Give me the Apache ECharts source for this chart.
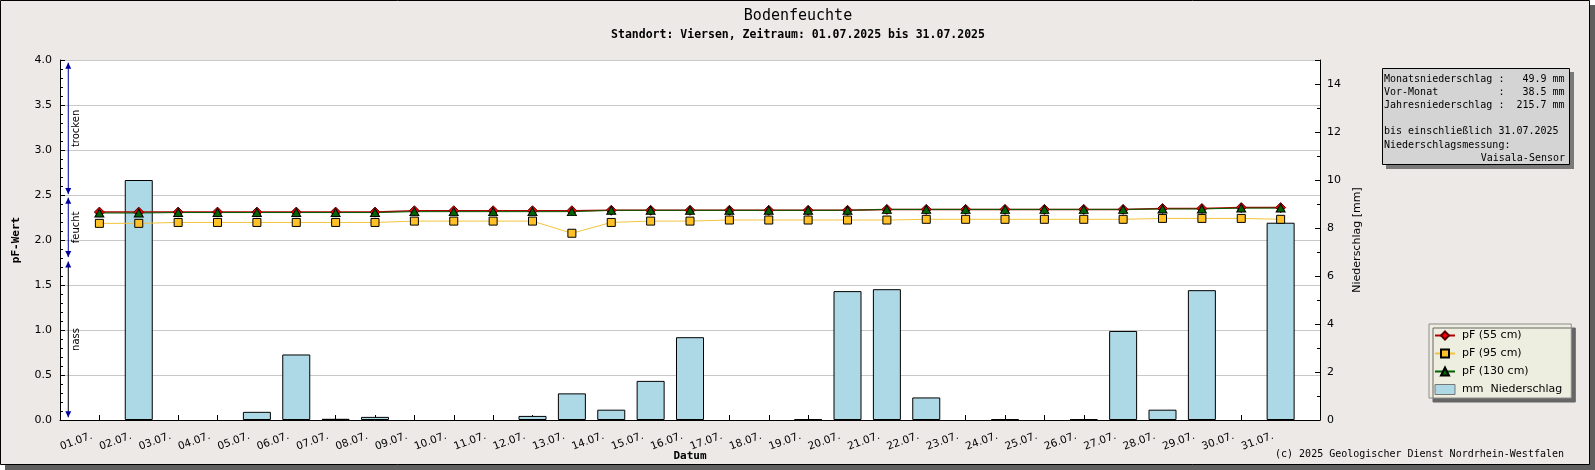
<!DOCTYPE html>
<html><head><meta charset="utf-8">
<script src="https://cdn.jsdelivr.net/npm/echarts@6/dist/echarts.min.js"></script>
<style>html,body{margin:0;padding:0;background:#fff;}#c{width:1595px;height:470px;}</style>
</head><body><div id="c"></div>
<script>
// ---------- data ----------
const dateLabels = ['01.07.','02.07.','03.07.','04.07.','05.07.','06.07.','07.07.','08.07.','09.07.','10.07.',
  '11.07.','12.07.','13.07.','14.07.','15.07.','16.07.','17.07.','18.07.','19.07.','20.07.',
  '21.07.','22.07.','23.07.','24.07.','25.07.','26.07.','27.07.','28.07.','29.07.','30.07.','31.07.'];
const pf55  = [2.31,2.31,2.31,2.31,2.31,2.31,2.31,2.31,2.325,2.325,2.325,2.325,2.325,2.33,2.33,2.33,
  2.33,2.33,2.33,2.33,2.34,2.34,2.34,2.34,2.34,2.34,2.34,2.35,2.35,2.36,2.36];
const pf95  = [2.185,2.185,2.195,2.195,2.195,2.195,2.195,2.195,2.21,2.21,2.21,2.21,2.075,2.195,2.21,2.21,
  2.222,2.222,2.222,2.222,2.222,2.23,2.23,2.23,2.23,2.23,2.23,2.24,2.24,2.24,2.23];
const pf130 = [2.30,2.30,2.305,2.305,2.305,2.305,2.305,2.305,2.315,2.315,2.315,2.315,2.315,2.33,2.33,2.33,
  2.33,2.33,2.33,2.33,2.34,2.34,2.34,2.34,2.34,2.34,2.34,2.345,2.345,2.355,2.355];
const precip = [0,10.0,0,0,0.34,2.73,0.05,0.13,0,0,0,0.17,1.11,0.43,1.63,3.45,0,0,0.03,5.37,
  5.45,0.94,0,0.03,0,0.03,3.71,0.43,5.41,0,8.22];
const zoneNames = ['trocken','feucht','nass'];
const zoneFrom  = [2.51, 1.81, 0.03];
const zoneTo    = [3.97, 2.47, 1.76];
const infoLines = ['Monatsniederschlag :   49.9 mm','Vor-Monat          :   38.5 mm','Jahresniederschlag :  215.7 mm','',
  'bis einschließlich 31.07.2025','Niederschlagsmessung:'];
const infoRight = 'Vaisala-Sensor';
const seriesNames = ['pF (55 cm)','pF (95 cm)','pF (130 cm)','mm  Niederschlag'];
const titleText = 'Bodenfeuchte';
const subtitleText = 'Standort: Viersen, Zeitraum: 01.07.2025 bis 31.07.2025';
const copyrightText = '(c) 2025 Geologischer Dienst Nordrhein-Westfalen';

// ---------- chart ----------
const BG = '#ece9e7';
const MONO = '"DejaVu Sans Mono"';
const SANS = 'DejaVu Sans';
const ZONE_X = 0.21;
const ZONE_LINE = ['#0000a0','#0000a0','#000000'];
const days = dateLabels.map((_, i) => i + 1);
const pairs = arr => arr.map((v, i) => [days[i], v]);

function txt(x, y, text, font, align, extra) {
  return Object.assign({type:'text', x:x, y:y, z:10, silent:true,
    style:{text:text, font:font, fill:'#000', align:align, textAlign:align, verticalAlign:'middle', textVerticalAlign:'middle'}}, extra || {});
}

const graphics = [
  {type:'rect', z:-3, silent:true, shape:{x:5, y:5, width:1590, height:465}, style:{fill:'#5f5f5f'}},
  {type:'rect', z:-2, silent:true, shape:{x:0.5, y:0.5, width:1589, height:464}, style:{fill:BG, stroke:'#000', lineWidth:1}},
  txt(798, 16, titleText, '15px ' + MONO, 'center'),
  txt(798, 35, subtitleText, 'bold 11.5px ' + MONO, 'center'),
  {type:'rect', z:8, silent:true, shape:{x:1386, y:72, width:188, height:97}, style:{fill:'#7a7a7a'}},
  {type:'rect', z:9, silent:true, shape:{x:1382.5, y:68.5, width:187, height:96}, style:{fill:'#d4d4d4', stroke:'#000', lineWidth:1}},
  txt(1564, 454, copyrightText, '10px ' + MONO, 'right')
];
infoLines.forEach((l, i) => { if (l) graphics.push(txt(1384, 79 + i * 13.2, l, '10px ' + MONO, 'left')); });
graphics.push(txt(1565, 79 + 6 * 13.2, infoRight, '10px ' + MONO, 'right'));

const chart = echarts.init(document.getElementById('c'), null, {renderer:'canvas', width:1595, height:470});
chart.setOption({
  animation:false,
  backgroundColor:'#fff',
  textStyle:{fontFamily:SANS},
  graphic:{elements:graphics},
  grid:{left:60, right:275, top:60, bottom:50, show:true, backgroundColor:'#fff', borderWidth:0,
    containLabel:false, outerBoundsMode:'none'},
  legend:{
    orient:'vertical', left:1429, top:324,
    data:[{name:seriesNames[0]},{name:seriesNames[1]},{name:seriesNames[2]},
      {name:seriesNames[3], icon:'rect', itemStyle:{color:'#add8e6', borderColor:'#777', borderWidth:1}}],
    itemWidth:20, itemHeight:10, itemGap:7, padding:[6,9,3,5],
    backgroundColor:'#eeeee0', borderColor:'#8c8c8c', borderWidth:1,
    shadowColor:'#666666', shadowOffsetX:4, shadowOffsetY:4, shadowBlur:0,
    textStyle:{fontFamily:SANS, fontSize:11, color:'#000', padding:[0,0,0,2]}
  },
  xAxis:{
    type:'value', min:0, max:32, interval:1,
    axisLine:{lineStyle:{color:'#000'}},
    axisTick:{inside:true, length:5, lineStyle:{color:'#000'}},
    axisLabel:{formatter:v => dateLabels[v - 1] || '', rotate:20, fontSize:10.5, margin:13, padding:[0,8,0,0],
      color:'#000', fontFamily:SANS},
    splitLine:{show:false},
    name:'Datum', nameLocation:'middle', nameGap:31, nameMoveOverlap:false,
    nameTextStyle:{fontFamily:'DejaVu Sans Mono', fontWeight:'bold', fontSize:11, color:'#000'}
  },
  yAxis:[{
    type:'value', min:0, max:4, interval:0.5, position:'left',
    axisLine:{show:true, lineStyle:{color:'#000'}},
    axisTick:{show:true, inside:true, length:5, lineStyle:{color:'#000'}},
    minorTick:{show:true, splitNumber:5, length:3, lineStyle:{color:'#000'}},
    axisLabel:{formatter:v => v.toFixed(1), fontSize:11, margin:8, color:'#000', fontFamily:SANS},
    splitLine:{show:true, lineStyle:{color:'#c8c8c8', width:1}},
    name:'pF-Wert', nameLocation:'middle', nameGap:38, nameRotate:90, nameMoveOverlap:false,
    nameTextStyle:{fontFamily:'DejaVu Sans Mono', fontWeight:'bold', fontSize:11, color:'#000'}
  },{
    type:'value', min:0, max:15, interval:2, position:'right',
    axisLine:{show:true, lineStyle:{color:'#000'}},
    axisTick:{show:true, inside:true, length:5, lineStyle:{color:'#000'}},
    minorTick:{show:true, splitNumber:2, length:3, lineStyle:{color:'#000'}},
    axisLabel:{formatter:v => (v > 14 ? '' : String(v)), fontSize:11, margin:7, color:'#000', fontFamily:SANS},
    splitLine:{show:false},
    name:'Niederschlag [mm]', nameLocation:'middle', nameGap:32, nameRotate:90, nameMoveOverlap:false,
    nameTextStyle:{fontFamily:SANS, fontSize:11, color:'#000'}
  }],
  series:[
    {name:seriesNames[3], type:'bar', yAxisIndex:1, barWidth:28,
      data:pairs(precip).filter(p => p[1] > 0),
      itemStyle:{color:'#add8e6', borderColor:'#000', borderWidth:1}},
    {name:seriesNames[0], type:'line', data:pairs(pf55), symbol:'diamond', symbolSize:[10,10],
      lineStyle:{color:'#b00000', width:1.5}, itemStyle:{color:'#ff0000', borderColor:'#5a0000', borderWidth:1}},
    {name:seriesNames[1], type:'line', data:pairs(pf95), symbol:'rect', symbolSize:8,
      lineStyle:{color:'#f2c43c', width:1}, itemStyle:{color:'#ffc125', borderColor:'#000', borderWidth:1}},
    {name:seriesNames[2], type:'line', data:pairs(pf130), symbol:'triangle', symbolSize:[9,8],
      lineStyle:{color:'#006000', width:1}, itemStyle:{color:'#006400', borderColor:'#000', borderWidth:1}},
    {name:'zones', type:'custom', silent:true, z:5,
      data:zoneFrom.map((f, i) => [f, zoneTo[i]]),
      renderItem:function(params, api){
        const i = params.dataIndex;
        const a = api.coord([ZONE_X, api.value(0)]);
        const b = api.coord([ZONE_X, api.value(1)]);
        const aw = 3, ah = 6;
        return {type:'group', children:[
          {type:'line', shape:{x1:a[0], y1:a[1], x2:b[0], y2:b[1]}, style:{stroke:ZONE_LINE[i], lineWidth:1}},
          {type:'polygon', shape:{points:[[a[0],a[1]],[a[0]-aw,a[1]-ah],[a[0]+aw,a[1]-ah]]}, style:{fill:'#0000a0'}},
          {type:'polygon', shape:{points:[[b[0],b[1]],[b[0]-aw,b[1]+ah],[b[0]+aw,b[1]+ah]]}, style:{fill:'#0000a0'}},
          {type:'text', x:a[0] + 8.5, y:(a[1] + b[1]) / 2, rotation:Math.PI / 2,
            style:{text:zoneNames[i], font:'10px "DejaVu Sans"', fill:'#000', align:'center', textAlign:'center',
              verticalAlign:'middle', textVerticalAlign:'middle'}}
        ]};
      }}
  ]
});
</script></body></html>
